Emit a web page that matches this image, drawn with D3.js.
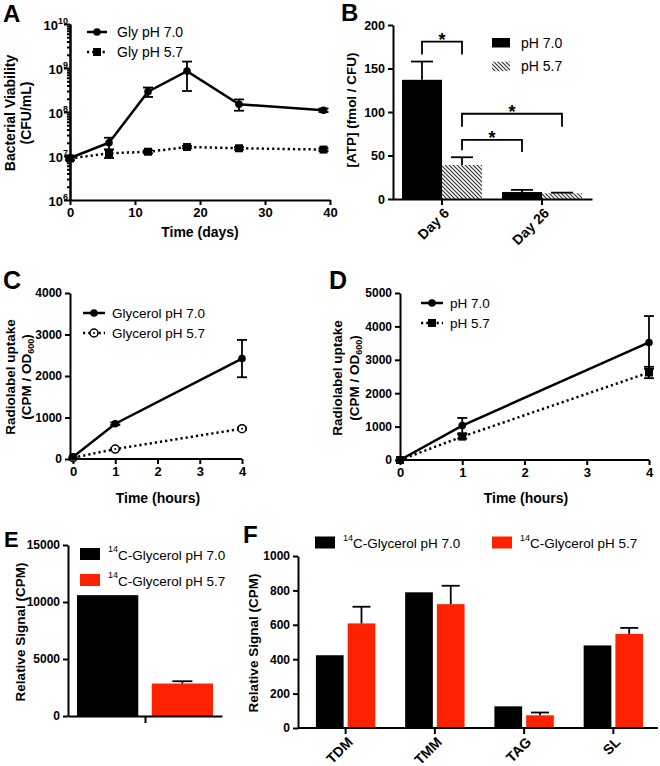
<!DOCTYPE html>
<html><head><meta charset="utf-8">
<script src="https://cdn.jsdelivr.net/npm/d3@7"></script>
<style>
body{margin:0;background:#fff;}
svg{font-family:"Liberation Sans",Arial,Helvetica,sans-serif;}
</style></head><body>
<svg id="fig" width="660" height="766"></svg>
<script>
// ---------- DATA ----------
// Panel A
const daysA = [0, 6, 12, 18, 26, 39];
const glyPH70 = [9e6, 2e7, 2.9e8, 8.5e8, 1.5e8, 1.1e8];
const glyPH70Err = [1e6, 6e6, 7e7, 5.5e8, 4.3e7, 1e7];
const glyPH57 = [8.8e6, 1.15e7, 1.25e7, 1.6e7, 1.5e7, 1.4e7];
const glyPH57Err = [5e5, 2.5e6, 1e6, 1e6, 1e6, 1e6];
const ticksAx = [0, 10, 20, 30, 40];
const ticksAyExp = [6, 7, 8, 9, 10];
const legendA = ["Gly pH 7.0", "Gly pH 5.7"];
// Panel B
const categoriesB = ["Day 6", "Day 26"];
const seriesB = ["pH 7.0", "pH 5.7"];
const atp70 = [137, 8];
const atp70Err = [21, 2.5];
const atp57 = [39, 6.5];
const atp57Err = [9, 0.8];
const ticksBy = [0, 50, 100, 150, 200];
// brackets: [fromCategory, fromSeries, toCategory, toSeries, topValue, leftFootValue, rightFootValue]
const bracketsB = [
  ["Day 6", "pH 7.0", "Day 6", "pH 5.7", 181, 166, 166],
  ["Day 6", "pH 5.7", "Day 26", "pH 5.7", 98, 83, 83],
  ["Day 6", "pH 5.7", "Day 26", "pH 7.0", 68, 56, 54]
];
// Panel C
const hoursC = [0, 1, 4];
const c70 = [50, 850, 2420];
const c70Err = [0, 30, 450];
const c57 = [30, 240, 730];
const c57Err = [0, 20, 25];
const ticksCx = [0, 1, 2, 3, 4];
const ticksCy = [0, 1000, 2000, 3000, 4000];
const legendC = ["Glycerol pH 7.0", "Glycerol pH 5.7"];
// Panel D
const hoursD = [0, 1, 4];
const d70 = [0, 1030, 3520];
const d70Err = [0, 230, 790];
const d57 = [0, 700, 2620];
const d57Err = [0, 60, 170];
const ticksDx = [0, 1, 2, 3, 4];
const ticksDy = [0, 1000, 2000, 3000, 4000, 5000];
const legendD = ["pH 7.0", "pH 5.7"];
// Panel E
const groupsE = ["pH 7.0", "pH 5.7"];
const valuesE = [10600, 2850];
const errE = [0, 200];
const ticksEy = [0, 5000, 10000, 15000];
const legendEF = ["C-Glycerol pH 7.0", "C-Glycerol pH 5.7"];
// Panel F
const lipids = ["TDM", "TMM", "TAG", "SL"];
const f70 = [423, 789, 126, 480];
const f70Err = [0, 0, 0, 0];
const f57 = [608, 720, 74, 547];
const f57Err = [97, 107, 16, 35];
const ticksFy = [0, 200, 400, 600, 800, 1000];

// ---------- HELPERS ----------
const FONT = '"Liberation Sans", Arial, Helvetica, sans-serif';
const RED = "#ff2200";
const INT = d3.format("d");
const svg = d3.select("#fig");

const defs = svg.append("defs");
const pat = defs.append("pattern").attr("id", "hatch").attr("patternUnits", "userSpaceOnUse")
  .attr("width", 4).attr("height", 4);
pat.append("rect").attr("width", 4).attr("height", 4).attr("fill", "#fff");
pat.append("path").attr("d", "M-1,-1 L5,5 M-1,3 L1,5 M3,-1 L5,1")
  .attr("stroke", "#333").attr("stroke-width", 1.2);

function styleAxis(g, size) {
  g.attr("font-family", FONT).attr("font-size", size || 12).attr("font-weight", "bold");
  g.select(".domain").attr("stroke", "#000").attr("stroke-width", 2);
  g.selectAll(".tick line").attr("stroke", "#000").attr("stroke-width", 2);
  g.selectAll(".tick text").attr("fill", "#000");
  return g;
}
function panelLetter(t, x, y, size) {
  svg.append("text").attr("x", x).attr("y", y).attr("font-size", size || 24)
    .attr("font-weight", "bold").attr("font-family", FONT).text(t);
}
function yTitleLine(x, cy, build, size) {
  const t = svg.append("text").attr("transform", `translate(${x},${cy}) rotate(-90)`)
    .attr("text-anchor", "middle").attr("font-size", size || 13.5).attr("font-weight", "bold")
    .attr("font-family", FONT);
  build(t);
  return t;
}
function xTitle(text, cx, y, size) {
  svg.append("text").attr("x", cx).attr("y", y).attr("text-anchor", "middle")
    .attr("font-size", size || 13.5).attr("font-weight", "bold").attr("font-family", FONT).text(text);
}
function vline(g, x, y1, y2, w) {
  g.append("line").attr("x1", x).attr("x2", x).attr("y1", y1).attr("y2", y2)
    .attr("stroke", "#000").attr("stroke-width", w || 2);
}
function hline(g, x1, x2, y, w) {
  g.append("line").attr("x1", x1).attr("x2", x2).attr("y1", y).attr("y2", y)
    .attr("stroke", "#000").attr("stroke-width", w || 2);
}
function symErr(g, x, yLo, yHi, cap) {
  vline(g, x, yLo, yHi, 1.8);
  hline(g, x - cap / 2, x + cap / 2, yLo, 1.8);
  hline(g, x - cap / 2, x + cap / 2, yHi, 1.8);
}
function upErr(g, x, yTop, yBar, cap) {
  vline(g, x, yBar, yTop, 1.8);
  hline(g, x - cap / 2, x + cap / 2, yTop, 1.8);
}
function marker(g, type, x, y) {
  if (type === "circle") {
    g.append("circle").attr("cx", x).attr("cy", y).attr("r", 3.8).attr("fill", "#000");
  } else if (type === "square") {
    g.append("rect").attr("x", x - 4).attr("y", y - 4).attr("width", 8).attr("height", 8).attr("fill", "#000");
  } else if (type === "open") {
    g.append("circle").attr("cx", x).attr("cy", y).attr("r", 4).attr("fill", "#fff")
      .attr("stroke", "#000").attr("stroke-width", 1.5);
    g.append("circle").attr("cx", x).attr("cy", y).attr("r", 1).attr("fill", "#000");
  }
}
const DOT = "2.2,3";

// ---------- PANEL A ----------
{
  const g = svg.append("g");
  const x = d3.scaleLinear([0, 40], [70, 330]);
  const y = d3.scaleLog([1e6, 1e10], [200, 24]);
  const minors = [];
  for (let e = 6; e < 10; e++) for (let m = 2; m <= 9; m++) minors.push(m * Math.pow(10, e));
  g.append("g").attr("transform", "translate(70,0)")
    .call(d3.axisLeft(y).tickValues(minors).tickFormat("").tickSize(3).tickSizeOuter(0))
    .call(styleAxis);
  const ya = g.append("g").attr("transform", "translate(70,0)")
    .call(d3.axisLeft(y).tickValues(ticksAyExp.map(e => Math.pow(10, e))).tickFormat("").tickSize(6).tickSizeOuter(0))
    .call(styleAxis, 13);
  ya.selectAll(".tick").each(function (d) {
    const t = d3.select(this).append("text").attr("x", -2).attr("y", 5)
      .attr("text-anchor", "end").attr("fill", "#000");
    t.append("tspan").text("10");
    t.append("tspan").attr("font-size", 9).attr("dy", -6).text(Math.round(Math.log10(d)));
  });
  g.append("g").attr("transform", "translate(0,200)")
    .call(d3.axisBottom(x).tickValues(ticksAx).tickFormat(INT).tickSize(5).tickSizeOuter(0))
    .call(styleAxis, 13);

  const line = d3.line().x((d, i) => x(daysA[i])).y(d => y(d));
  g.append("path").datum(glyPH57).attr("d", line).attr("fill", "none").attr("stroke", "#000")
    .attr("stroke-width", 2.5).attr("stroke-dasharray", DOT);
  g.append("path").datum(glyPH70).attr("d", line).attr("fill", "none").attr("stroke", "#000")
    .attr("stroke-width", 2.5);
  glyPH57.forEach((v, i) => {
    symErr(g, x(daysA[i]), y(v - glyPH57Err[i]), y(v + glyPH57Err[i]), 10);
    marker(g, "square", x(daysA[i]), y(v));
  });
  glyPH70.forEach((v, i) => {
    symErr(g, x(daysA[i]), y(v - glyPH70Err[i]), y(v + glyPH70Err[i]), 10);
    marker(g, "circle", x(daysA[i]), y(v));
  });
  const lg = g.append("g");
  [[32, "circle", null], [52, "square", DOT]].forEach((r, i) => {
    lg.append("line").attr("x1", 87).attr("x2", 107).attr("y1", r[0]).attr("y2", r[0])
      .attr("stroke", "#000").attr("stroke-width", 2.5).attr("stroke-dasharray", r[2]);
    marker(lg, r[1], 97, r[0]);
    lg.append("text").attr("x", 117).attr("y", r[0]).attr("dy", "0.35em").attr("font-size", 14)
      .attr("font-family", FONT).text(legendA[i]);
  });
  panelLetter("A", 3, 22, 24);
  yTitleLine(15, 113, t => t.text("Bacterial Viability"), 14);
  yTitleLine(31, 113, t => t.text("(CFU/mL)"), 14);
  xTitle("Time (days)", 200, 237, 14);
}

// ---------- PANEL B ----------
{
  const g = svg.append("g");
  const x = d3.scaleBand(categoriesB, [392, 592]).padding(0);
  const xs = d3.scaleBand(seriesB, [0, x.bandwidth()]).paddingInner(0).paddingOuter(0.25);
  const y = d3.scaleLinear([0, 200], [199, 25]);
  const vals = { "pH 7.0": [atp70, atp70Err], "pH 5.7": [atp57, atp57Err] };
  categoriesB.forEach((c, ci) => {
    seriesB.forEach(s => {
      const v = vals[s][0][ci], e = vals[s][1][ci];
      const bx = x(c) + xs(s);
      g.append("rect").attr("x", bx).attr("y", y(v)).attr("width", xs.bandwidth())
        .attr("height", y(0) - y(v)).attr("fill", s === "pH 7.0" ? "#000" : "url(#hatch)");
      upErr(g, bx + xs.bandwidth() / 2, y(v + e), y(v), 22);
    });
  });
  g.append("g").attr("transform", "translate(393,0)")
    .call(d3.axisLeft(y).tickValues(ticksBy).tickFormat(INT).tickSize(5).tickSizeOuter(0)).call(styleAxis, 12.5);
  const xa = g.append("g").attr("transform", "translate(0,199)")
    .call(d3.axisBottom(x).tickSize(6).tickSizeOuter(0)).call(styleAxis, 14);
  xa.selectAll(".tick text").attr("text-anchor", "end").attr("dy", null).attr("y", 0)
    .attr("transform", "translate(8,15) rotate(-45)");
  bracketsB.forEach(b => {
    const x1 = x(b[0]) + xs(b[1]) + xs.bandwidth() / 2;
    const x2 = x(b[2]) + xs(b[3]) + xs.bandwidth() / 2;
    g.append("path").attr("d", `M${x1},${y(b[5])}V${y(b[4])}H${x2}V${y(b[6])}`)
      .attr("fill", "none").attr("stroke", "#000").attr("stroke-width", 1.8);
    g.append("text").attr("x", (x1 + x2) / 2).attr("y", y(b[4]) + 4).attr("text-anchor", "middle")
      .attr("font-size", 18).attr("font-weight", "bold").attr("font-family", FONT).text("*");
  });
  [[38, "#000"], [61.7, "url(#hatch)"]].forEach((r, i) => {
    g.append("rect").attr("x", 492).attr("y", r[0]).attr("width", 18).attr("height", 9.5).attr("fill", r[1]);
    g.append("text").attr("x", 521).attr("y", r[0] + 4.8).attr("dy", "0.35em").attr("font-size", 14)
      .attr("font-family", FONT).text(seriesB[i]);
  });
  panelLetter("B", 341, 21, 24);
  yTitleLine(356, 110, t => t.text("[ATP] (fmol / CFU)"));
}

// ---------- PANEL C & D ----------
function uptakePanel(opts) {
  const g = svg.append("g");
  const x = d3.scaleLinear([0, 4], opts.xr);
  const y = d3.scaleLinear(opts.yd, opts.yr);
  g.append("g").attr("transform", `translate(${opts.ax},0)`)
    .call(d3.axisLeft(y).tickValues(opts.yt).tickFormat(INT).tickSize(5).tickSizeOuter(0)).call(styleAxis);
  const xa = g.append("g").attr("transform", `translate(0,${opts.yr[0]})`)
    .call(d3.axisBottom(x).tickValues(opts.xt).tickFormat(INT).tickSize(5).tickSizeOuter(0)).call(styleAxis, 13);
  xa.select(".domain").attr("d", `M${opts.ax},0H${opts.xr[1]}`);
  const line = d3.line().x((d, i) => x(opts.hours[i])).y(d => y(d));
  g.append("path").datum(opts.s2).attr("d", line).attr("fill", "none").attr("stroke", "#000")
    .attr("stroke-width", 2.5).attr("stroke-dasharray", DOT);
  g.append("path").datum(opts.s1).attr("d", line).attr("fill", "none").attr("stroke", "#000")
    .attr("stroke-width", 2.5);
  opts.s1.forEach((v, i) => {
    if (opts.e1[i] > 0) symErr(g, x(opts.hours[i]), y(v - opts.e1[i]), y(v + opts.e1[i]), 10);
  });
  opts.s2.forEach((v, i) => {
    if (opts.e2[i] > 0) symErr(g, x(opts.hours[i]), y(v - opts.e2[i]), y(v + opts.e2[i]), 10);
    marker(g, opts.m2, x(opts.hours[i]), y(v));
  });
  opts.s1.forEach((v, i) => marker(g, "circle", x(opts.hours[i]), y(v)));
  [[opts.leg[1], "circle", null], [opts.leg[2], opts.m2, DOT]].forEach((r, i) => {
    g.append("line").attr("x1", opts.leg[0]).attr("x2", opts.leg[0] + 22).attr("y1", r[0]).attr("y2", r[0])
      .attr("stroke", "#000").attr("stroke-width", 2.5).attr("stroke-dasharray", r[2]);
    marker(g, r[1], opts.leg[0] + 11, r[0]);
    g.append("text").attr("x", opts.leg[3]).attr("y", r[0]).attr("dy", "0.35em").attr("font-size", 13.5)
      .attr("font-family", FONT).text(opts.legText[i]);
  });
  yTitleLine(opts.yt1[0], opts.yt1[2], t => t.text("Radiolabel uptake"));
  yTitleLine(opts.yt1[1], opts.yt1[2], t => {
    t.append("tspan").text("(CPM / OD");
    t.append("tspan").attr("font-size", 9).attr("dy", 3).text("600");
    t.append("tspan").attr("dy", -3).text(")");
  });
  xTitle("Time (hours)", opts.xtitle, 503, 14);
}
uptakePanel({
  xr: [73, 242], yd: [0, 4000], yr: [459, 293], ax: 70, yt: ticksCy, xt: ticksCx,
  hours: hoursC, s1: c70, e1: c70Err, s2: c57, e2: c57Err, m2: "open",
  leg: [83, 313, 333, 112], legText: legendC, yt1: [15, 31, 377], xtitle: 158
});
panelLetter("C", 3, 289, 25);
uptakePanel({
  xr: [400, 649], yd: [0, 5000], yr: [460, 293], ax: 400, yt: ticksDy, xt: ticksDx,
  hours: hoursD, s1: d70, e1: d70Err, s2: d57, e2: d57Err, m2: "square",
  leg: [421, 303, 323, 450], legText: legendD, yt1: [342, 359, 378], xtitle: 526
});
panelLetter("D", 329, 289, 25);

// ---------- PANEL E ----------
function supLegend(g, x, cy, color, text) {
  g.append("rect").attr("x", x).attr("y", cy - 6).attr("width", 20).attr("height", 12).attr("fill", color);
  const t = g.append("text").attr("x", x + 28).attr("y", cy).attr("dy", "0.35em").attr("font-size", 13.5)
    .attr("font-family", FONT);
  t.append("tspan").attr("font-size", 9).attr("dy", "-0.2em").text("14");
  t.append("tspan").attr("dy", "0.55em").text(text);
}
{
  const g = svg.append("g");
  const x = d3.scaleBand(groupsE, [68, 222]).paddingInner(0.18).paddingOuter(0.12);
  const y = d3.scaleLinear([0, 15000], [716, 545]);
  groupsE.forEach((s, i) => {
    g.append("rect").attr("x", x(s)).attr("y", y(valuesE[i])).attr("width", x.bandwidth())
      .attr("height", y(0) - y(valuesE[i])).attr("fill", i === 0 ? "#000" : RED);
    if (errE[i] > 0) upErr(g, x(s) + x.bandwidth() / 2, y(valuesE[i] + errE[i]), y(valuesE[i]), 20);
  });
  g.append("g").attr("transform", "translate(68,0)")
    .call(d3.axisLeft(y).tickValues(ticksEy).tickFormat(INT).tickSize(5).tickSizeOuter(0)).call(styleAxis);
  g.append("g").attr("transform", "translate(0,716)")
    .call(d3.axisBottom(d3.scaleLinear([0, 1], [68, 222])).tickValues([0.5]).tickFormat("").tickSize(7).tickSizeOuter(0))
    .call(styleAxis);
  supLegend(g, 80, 554, "#000", legendEF[0]);
  supLegend(g, 80, 580, RED, legendEF[1]);
  panelLetter("E", 4, 547, 22);
  yTitleLine(25, 632, t => t.text("Relative Signal (CPM)"));
}

// ---------- PANEL F ----------
{
  const g = svg.append("g");
  const x = d3.scaleBand(lipids, [301, 658]).padding(0);
  const xs = d3.scaleBand(["pH 7.0", "pH 5.7"], [0, x.bandwidth()]).paddingInner(0.127).paddingOuter(0.47);
  const y = d3.scaleLinear([0, 1000], [728, 556]);
  lipids.forEach((c, ci) => {
    [[f70, f70Err, "#000", "pH 7.0"], [f57, f57Err, RED, "pH 5.7"]].forEach(s => {
      const v = s[0][ci], e = s[1][ci], bx = x(c) + xs(s[3]);
      g.append("rect").attr("x", bx).attr("y", y(v)).attr("width", xs.bandwidth())
        .attr("height", y(0) - y(v)).attr("fill", s[2]);
      if (e > 0) upErr(g, bx + xs.bandwidth() / 2, y(v + e), y(v), 18);
    });
  });
  g.append("g").attr("transform", "translate(298,0)")
    .call(d3.axisLeft(y).tickValues(ticksFy).tickFormat(INT).tickSize(5).tickSizeOuter(0)).call(styleAxis);
  const xa = g.append("g").attr("transform", "translate(0,728)")
    .call(d3.axisBottom(x).tickSize(6).tickSizeOuter(0)).call(styleAxis, 14);
  xa.select(".domain").attr("d", "M298,0H658");
  xa.selectAll(".tick text").attr("text-anchor", "end").attr("dy", null).attr("y", 0)
    .attr("transform", "translate(8,15) rotate(-45)");
  supLegend(g, 315, 542.5, "#000", legendEF[0]);
  supLegend(g, 492, 542.5, RED, legendEF[1]);
  panelLetter("F", 243, 543, 24);
  yTitleLine(258, 643, t => t.text("Relative Signal (CPM)"));
}
</script>
</body></html>
